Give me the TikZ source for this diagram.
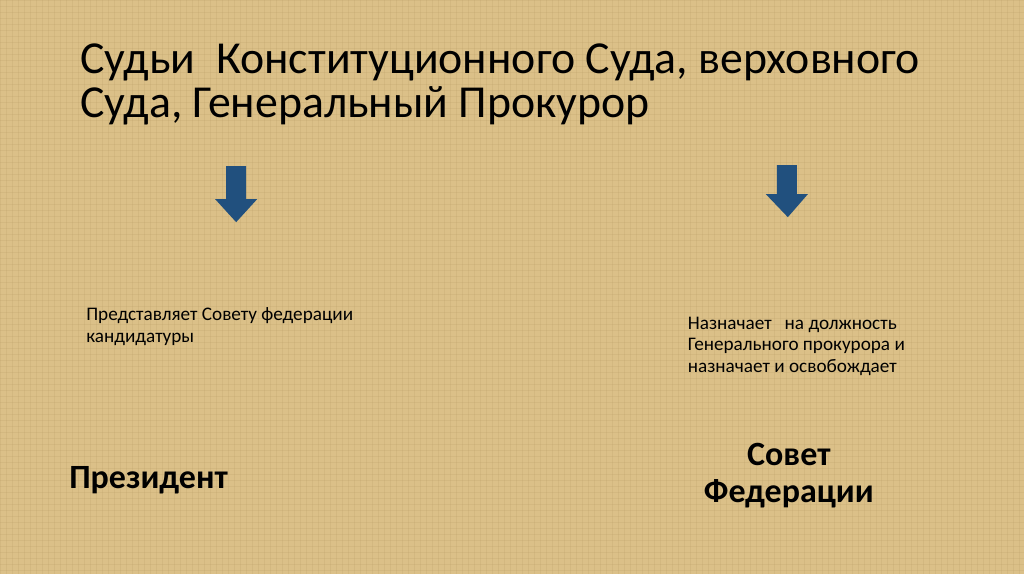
\documentclass[tikz,border=0pt]{standalone}
\usepackage{fontspec}
\setmainfont{Carlito}
\usetikzlibrary{positioning}

\definecolor{parchment}{RGB}{219,192,136}
\definecolor{fibre}{RGB}{180,150,95}
\definecolor{arrowblue}{RGB}{33,80,126}

\begin{document}
\begin{tikzpicture}[x=1pt, y=-1pt,
  every node/.style = {inner sep=0pt, outer sep=0pt, align=left},
  heading/.style = {font=\fontsize{45.8}{44}\selectfont},
  note/.style = {font=\fontsize{19.2}{21.5}\selectfont},
  organ/.style = {font=\fontsize{34}{37}\selectfont\bfseries, align=center},
  downarrow/.style = {fill=arrowblue, draw=none}
  ]
  % background
  \fill[parchment] (0,0) rectangle (1024,574);
  \foreach \i in {0,6,...,1024}
    \draw[fibre, opacity=0.18, line width=0.6pt] (\i,0) -- (\i,574);
  \foreach \j in {0,6,...,574}
    \draw[fibre, opacity=0.18, line width=0.6pt] (0,\j) -- (1024,\j);
  \useasboundingbox (0,0) rectangle (1024,574);

  % title
  \node[heading, anchor=base west] (title) at (80,117)
    {Судьи \ Конституционного Суда, верховного\\Суда, Генеральный Прокурор};

  % arrows
  \draw[downarrow] (226,166) -- (246,166) -- (246,199) -- (257,199)
    -- (236,222) -- (215,199) -- (226,199) -- cycle;
  \draw[downarrow] (777,165) -- (797,165) -- (797,194) -- (808,194)
    -- (788,217) -- (766,194) -- (777,194) -- cycle;

  % texts
  \node[note, anchor=base west] (present) at (86,342)
    {Представляет Совету федерации\\кандидатуры};
  \node[note, anchor=base west] (appoint) at (688,372)
    {Назначает \ \ на должность\\Генерального прокурора и\\назначает и освобождает};

  \node[organ, anchor=base west] (president) at (69,488) {Президент};
  \node[organ, anchor=base] (council) at (789,502) {Совет\\Федерации};
\end{tikzpicture}
\end{document}
